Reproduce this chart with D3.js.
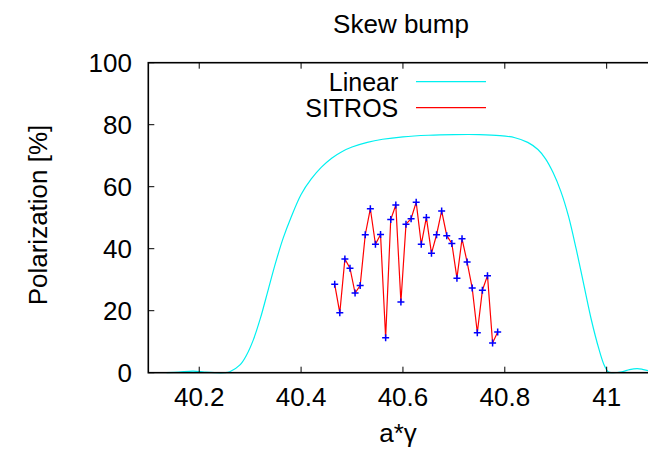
<!DOCTYPE html>
<html>
<head>
<meta charset="utf-8">
<script src="https://cdn.jsdelivr.net/npm/d3@7/dist/d3.min.js"></script>
<style>
  html, body { margin: 0; padding: 0; background: #fff; }
  svg { display: block; font-family: "Liberation Sans", Arial, Helvetica, sans-serif; }
</style>
</head>
<body>
<svg id="chart" width="648" height="453"></svg>
<script>
// Linear model: polarization across the skew bump scan
const linearX = [40.136, 40.16, 40.188, 40.21, 40.23, 40.25, 40.26, 40.28, 40.293, 40.306,
  40.32, 40.335, 40.35, 40.365, 40.38, 40.40, 40.42, 40.44, 40.46, 40.48,
  40.50, 40.53, 40.56, 40.60, 40.65, 40.70, 40.75, 40.79, 40.82, 40.845,
  40.865, 40.88, 40.895, 40.91, 40.925, 40.94, 40.955, 40.97, 40.985, 40.995,
  41.003, 41.01, 41.03, 41.045, 41.06, 41.07, 41.085];
const linearY = [0, 0.2, 0.5, 0.2, 0, 0, 0.3, 2.5, 5.7, 10.5,
  17.5, 26.5, 35.5, 43.5, 50, 57.5, 62.5, 66.3, 69.2, 71.3,
  72.8, 74.3, 75.3, 76.1, 76.6, 76.8, 76.8, 76.5, 75.8, 74.3,
  72, 69, 64.5, 58.5, 50.5, 40, 28.5, 17, 7.5, 2.5,
  0.3, 0, 0.3, 1.0, 1.3, 1.1, 0.5];

// SITROS tracking results
const sitrosX = [40.466, 40.476, 40.486, 40.496, 40.506, 40.516, 40.526, 40.536, 40.546, 40.556,
  40.566, 40.576, 40.586, 40.596, 40.606, 40.616, 40.626, 40.636, 40.646, 40.656,
  40.666, 40.676, 40.686, 40.696, 40.706, 40.716, 40.726, 40.736, 40.746, 40.756,
  40.766, 40.776, 40.786];
const sitrosY = [28.5, 19.3, 36.7, 33.7, 25.7, 28.1, 44.5, 52.9, 41.4, 44.6,
  11.3, 49.4, 54.1, 22.8, 47.9, 49.7, 55.0, 41.4, 50.1, 38.5,
  44.5, 52.2, 44.2, 41.7, 30.5, 43.2, 35.7, 27.3, 12.9, 26.6,
  31.3, 9.6, 13.1];

const xTicks = [40.2, 40.4, 40.6, 40.8, 41];
const yTicks = [0, 20, 40, 60, 80, 100];
const xDomain = [40.1, 41.1];
const yDomain = [0, 100];

const legendItems = [
  { label: "Linear", color: "#00f0f0" },
  { label: "SITROS", color: "#ff0000" }
];

const svg = d3.select("#chart");
const plotLeft = 148.3, plotTop = 62.7, plotBottom = 372.7;
const pxPerUnit = 509.3; // pixels per unit of a*gamma
const plotRight = plotLeft + (xDomain[1] - xDomain[0]) * pxPerUnit;

const x = d3.scaleLinear().domain(xDomain).range([plotLeft, plotRight]);
const y = d3.scaleLinear().domain(yDomain).range([plotBottom, plotTop]);

svg.append("defs").append("clipPath").attr("id", "plotClip")
  .append("rect").attr("x", plotLeft).attr("y", plotTop - 2)
  .attr("width", plotRight - plotLeft).attr("height", plotBottom - plotTop + 4);

const plot = svg.append("g").attr("clip-path", "url(#plotClip)");

// Linear curve
const linearData = linearX.map((d, i) => [d, linearY[i]]);
plot.append("path")
  .datum(linearData)
  .attr("fill", "none")
  .attr("stroke", legendItems[0].color)
  .attr("stroke-width", 1.2)
  .attr("d", d3.line().x(d => x(d[0])).y(d => y(d[1])).curve(d3.curveCatmullRom.alpha(0.5)));

// SITROS line and point markers
const sitrosData = sitrosX.map((d, i) => [d, sitrosY[i]]);
plot.append("path")
  .datum(sitrosData)
  .attr("fill", "none")
  .attr("stroke", legendItems[1].color)
  .attr("stroke-width", 1.2)
  .attr("d", d3.line().x(d => x(d[0])).y(d => y(d[1])));

const cross = 3.5;
plot.append("g").selectAll("path")
  .data(sitrosData)
  .join("path")
  .attr("fill", "none")
  .attr("stroke", "#0000ff")
  .attr("stroke-width", 1.5)
  .attr("d", d => {
    const cx = x(d[0]), cy = y(d[1]);
    return `M${cx - cross},${cy}H${cx + cross}M${cx},${cy - cross}V${cy + cross}`;
  });

// Frame and ticks
const axisColor = "#000";
svg.append("rect")
  .attr("x", plotLeft).attr("y", plotTop)
  .attr("width", plotRight - plotLeft).attr("height", plotBottom - plotTop)
  .attr("fill", "none").attr("stroke", axisColor).attr("stroke-width", 1.6);

const tickLen = 6;
const ticks = svg.append("g").attr("stroke", axisColor).attr("stroke-width", 1);
xTicks.forEach(t => {
  ticks.append("line").attr("x1", x(t)).attr("x2", x(t)).attr("y1", plotBottom).attr("y2", plotBottom - tickLen);
  ticks.append("line").attr("x1", x(t)).attr("x2", x(t)).attr("y1", plotTop).attr("y2", plotTop + tickLen);
});
yTicks.forEach(t => {
  ticks.append("line").attr("x1", plotLeft).attr("x2", plotLeft + tickLen).attr("y1", y(t)).attr("y2", y(t));
  ticks.append("line").attr("x1", plotRight).attr("x2", plotRight - tickLen).attr("y1", y(t)).attr("y2", y(t));
});

const fontSize = 26;
const fmtX = d3.format("");
svg.append("g").selectAll("text")
  .data(xTicks).join("text")
  .attr("x", d => x(d)).attr("y", 405.5)
  .attr("text-anchor", "middle")
  .attr("font-size", fontSize)
  .text(d => fmtX(d));

svg.append("g").selectAll("text")
  .data(yTicks).join("text")
  .attr("x", 132).attr("y", d => y(d) + 9.3)
  .attr("text-anchor", "end")
  .attr("font-size", fontSize)
  .text(d => d);

// Titles
svg.append("text")
  .attr("x", 401).attr("y", 33)
  .attr("text-anchor", "middle").attr("font-size", fontSize)
  .text("Skew bump");

svg.append("text")
  .attr("x", 398).attr("y", 442)
  .attr("text-anchor", "middle").attr("font-size", fontSize)
  .text("a*γ");

svg.append("text")
  .attr("transform", "translate(47,215) rotate(-90)")
  .attr("text-anchor", "middle").attr("font-size", fontSize)
  .text("Polarization [%]");

// Legend
const legend = svg.append("g");
legendItems.forEach((item, i) => {
  const ly = 81.7 + i * 26;
  legend.append("text")
    .attr("x", 398.3).attr("y", ly + 9)
    .attr("text-anchor", "end").attr("font-size", 25)
    .text(item.label);
  legend.append("line")
    .attr("x1", 416).attr("x2", 486).attr("y1", ly).attr("y2", ly)
    .attr("stroke", item.color).attr("stroke-width", 1.2);
});
</script>
</body>
</html>
